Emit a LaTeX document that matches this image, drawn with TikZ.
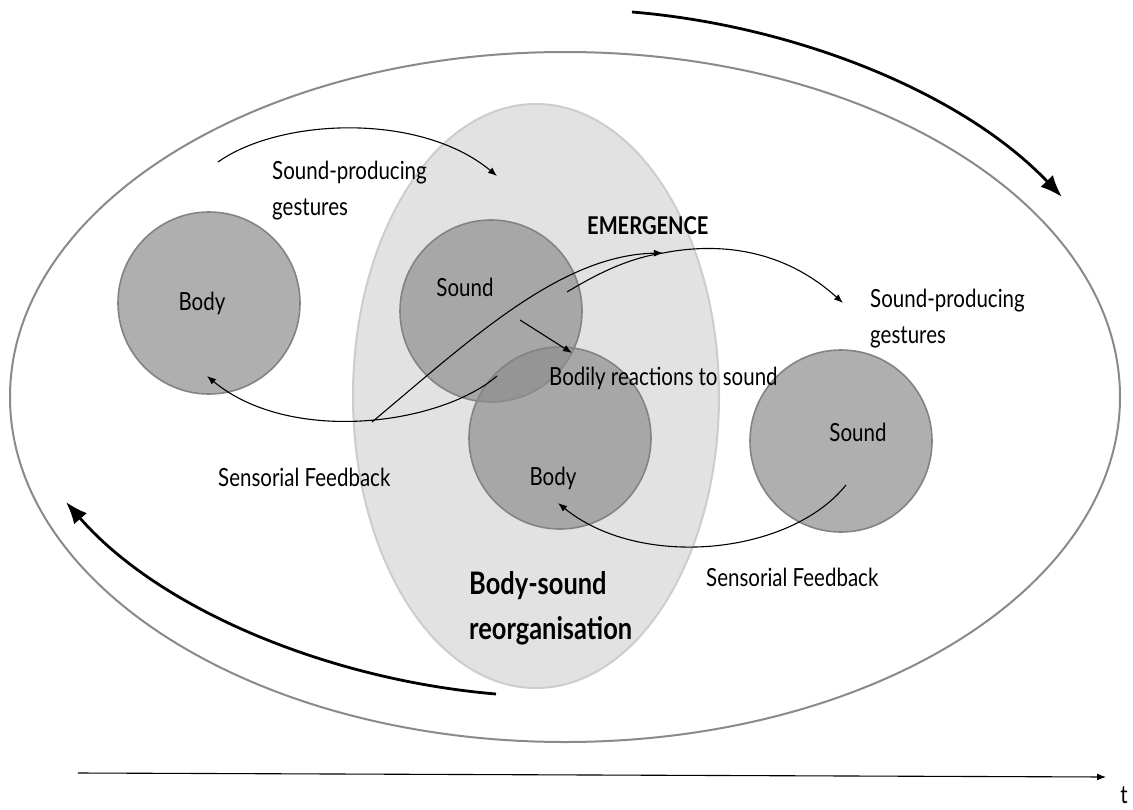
\documentclass[tikz,border=0pt]{standalone}
\usepackage{fontspec}
\setmainfont{Lato}[FakeStretch=0.82]
\usetikzlibrary{arrows.meta,shapes.geometric}
\definecolor{outeredge}{HTML}{8A8A8A}
\definecolor{zonefill}{HTML}{E2E2E2}
\definecolor{zoneedge}{HTML}{CDCDCD}
\definecolor{blobfill}{HTML}{8E8E8E}
\definecolor{blobedge}{HTML}{838383}
\tikzset{
  zone/.style={ellipse, inner sep=0pt, outer sep=0pt},
  blob/.style={circle, inner sep=0pt, outer sep=0pt, minimum size=182pt,
    fill=blobfill, fill opacity=0.7, draw=blobedge, line width=1.6pt},
  lbl/.style={font=\fontsize{25}{36}\selectfont, inner sep=0pt, align=left, text=black},
  blbl/.style={font=\bfseries\fontsize{24.5}{36}\selectfont, inner sep=0pt, align=left},
  bigbold/.style={font=\bfseries\fontsize{31}{45}\selectfont, inner sep=0pt, align=left},
  thinarrow/.style={-{Latex[length=9pt,width=7pt]}, line width=1.1pt},
  thinline/.style={line width=1.1pt},
  bigarrow/.style={-{Latex[length=22pt,width=17pt]}, line width=2.8pt},
}
\begin{document}
\begin{tikzpicture}[x=1pt,y=-1pt]
\useasboundingbox (0,0) rectangle (1133,809);
\fill[white] (0,0) rectangle (1133,809);
% outer cycle
\node[zone, draw=outeredge, line width=2pt, minimum width=1110pt, minimum height=690pt] (outer) at (565,397) {};
% reorganisation zone
\node[zone, fill=zonefill, draw=zoneedge, line width=2pt, minimum width=366pt, minimum height=584pt] (reorg) at (536,396) {};
% circles
\node[blob] (bodyL) at (209,303) {};
\node[blob] (soundM) at (491,311) {};
\node[blob] (bodyM) at (560,438) {};
\node[blob] (soundR) at (841,441) {};
% circle labels
\node[lbl] (tBodyL) at (202,303) {Body};
\node[lbl] (tSoundM) at (465,287) {Sound};
\node[lbl] (tBodyM) at (553,478) {Body};
\node[lbl] (tSoundR) at (858,432) {Sound};
% other labels
\node[lbl, anchor=west] (spgL) at (272,191) {Sound-producing\\gestures};
\node[lbl, anchor=west] (spgR) at (870,319) {Sound-producing\\gestures};
\node[blbl, anchor=west] (emerg) at (587,226) {EMERGENCE};
\node[lbl, anchor=west] (react) at (549,378) {Bodily reactions to sound};
\node[lbl, anchor=west] (sfL) at (218,477) {Sensorial Feedback};
\node[lbl, anchor=west] (sfR) at (706,577) {Sensorial Feedback};
\node[bigbold, anchor=west] (bsr) at (469,608) {Body-sound\\reorganisation};
\node[lbl, anchor=center] (tlab) at (1124,795) {t};
% connector end points
\coordinate (cyA) at (632,12);
\coordinate (cyB) at (1062,197);
\coordinate (cyC) at (496,694);
\coordinate (cyD) at (66,502);
\coordinate (gA) at (218,162);
\coordinate (gB) at (497,176);
\coordinate (fbA) at (497,376);
\coordinate (fbB) at (207,376);
\coordinate (emA) at (372,422);
\coordinate (emB) at (567,292);
\coordinate (emT) at (663,253);
\coordinate (gR) at (843,303);
\coordinate (rxA) at (520,320);
\coordinate (rxB) at (572,353);
\coordinate (frA) at (846,485);
\coordinate (frB) at (558,503);
\coordinate (tA) at (78,773);
\coordinate (tB) at (1106,777);
% big cycle arrows
\draw[bigarrow] (cyA) .. controls (790,25) and (960,90) .. (cyB);
\draw[bigarrow] (cyC) .. controls (330,680) and (160,610) .. (cyD);
% gestures (left)
\draw[thinarrow] (gA) .. controls (280,118) and (420,112) .. (gB);
% sensorial feedback (left)
\draw[thinarrow] (fbA) .. controls (440,425) and (290,445) .. (fbB);
% emergence
\draw[thinarrow] (emA) .. controls (470,340) and (560,255) .. (emT);
\draw[thinline] (emB) .. controls (600,272) and (630,258) .. (emT);
\draw[thinarrow] (emT) .. controls (730,240) and (790,255) .. (gR);
% bodily reactions
\draw[thinarrow] (rxA) -- (rxB);
% sensorial feedback (right)
\draw[thinarrow] (frA) .. controls (790,555) and (640,570) .. (frB);
% time axis
\draw[thinarrow] (tA) -- (tB);
\end{tikzpicture}
\end{document}
